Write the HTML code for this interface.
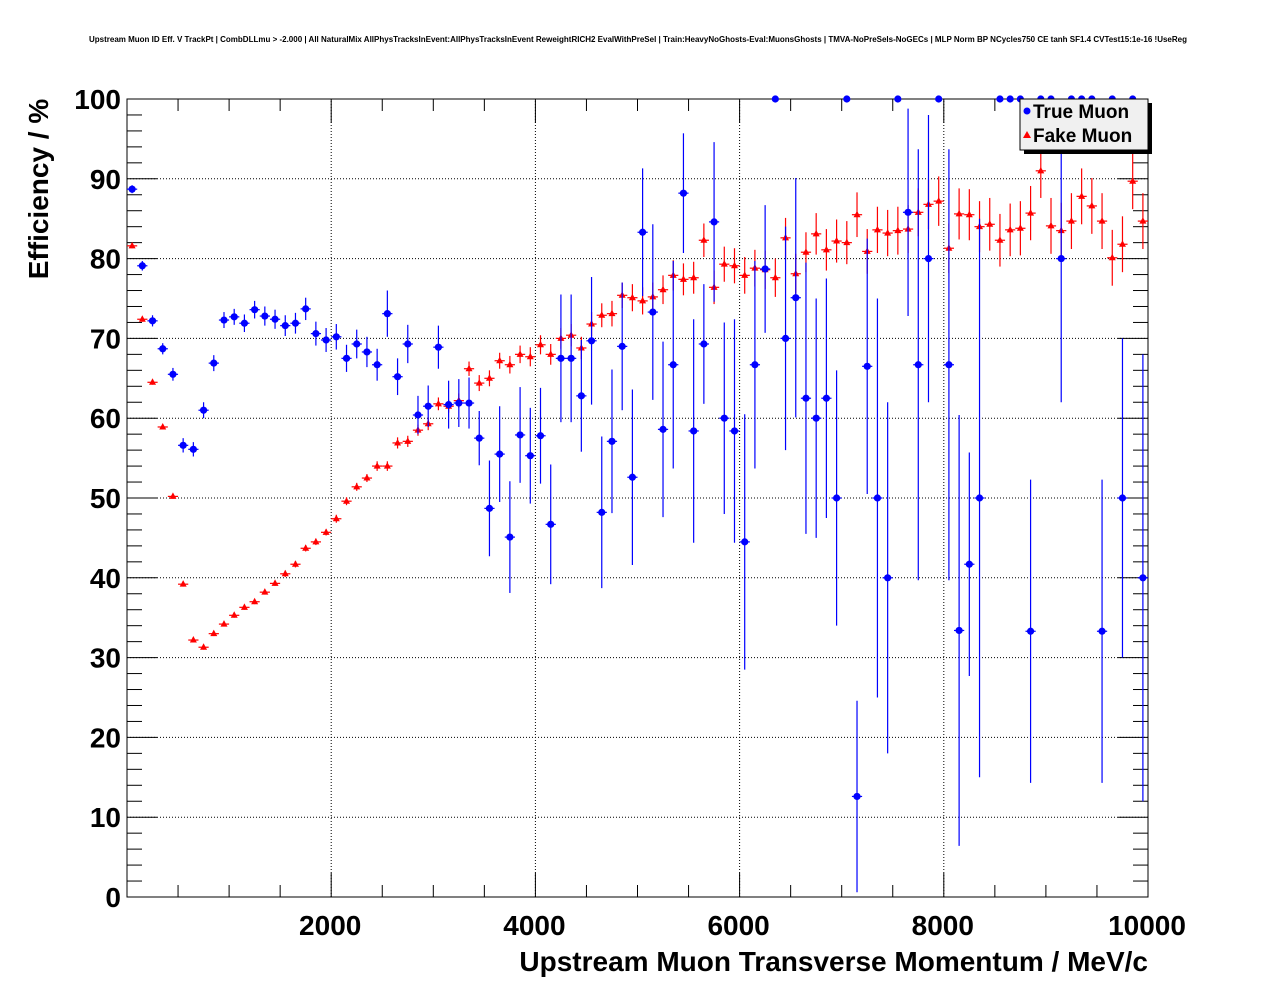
<!DOCTYPE html>
<html><head><meta charset="utf-8"><style>
html,body{margin:0;padding:0;background:#fff;}
svg text{font-family:"Liberation Sans",Arial,sans-serif;font-weight:bold;}
</style></head><body>
<svg id="chart" width="1276" height="996" viewBox="0 0 1276 996" xmlns="http://www.w3.org/2000/svg">
<rect width="1276" height="996" fill="#fff"/>
<text x="638" y="42" font-size="8" text-anchor="middle">Upstream Muon ID Eff. V TrackPt | CombDLLmu &gt; -2.000 | All NaturalMix AllPhysTracksInEvent:AllPhysTracksInEvent ReweightRICH2 EvalWithPreSel | Train:HeavyNoGhosts-Eval:MuonsGhosts | TMVA-NoPreSels-NoGECs | MLP Norm BP NCycles750 CE tanh SF1.4 CVTest15:1e-16 !UseReg</text>
<g id="grid"></g>
<g id="axes"></g>
<g id="fake"></g>
<g id="true"></g>
<text transform="translate(48,189) rotate(-90)" font-size="28" text-anchor="middle">Efficiency / %</text>
<text x="1148" y="971" font-size="28" text-anchor="end">Upstream Muon Transverse Momentum / MeV/c</text>
<g>
<rect x="1024" y="103" width="128" height="51" fill="#000"/>
<rect x="1020" y="99" width="128" height="51" fill="#f0f0f0" stroke="#000" stroke-width="1"/>
<g>
<circle cx="1027" cy="111" r="3.5" fill="#0000ff"/>
<text x="1033" y="118" font-size="19">True Muon</text></g>
<g>
<polygon points="1027,131 1031,138 1023,138" fill="#ff0000"/>
<text x="1033" y="142" font-size="19">Fake Muon</text></g>
</g>
</svg>
<script>
const binCenters = [];
for (let i = 0; i < 100; i++) binCenters.push(50 + 100 * i);
const trueEff = [88.7,79.1,72.2,68.7,65.5,56.6,56.1,61.0,66.9,72.3,
72.7,71.9,73.6,72.8,72.4,71.6,71.9,73.7,70.6,69.8,
70.2,67.5,69.3,68.3,66.7,73.1,65.2,69.3,60.4,61.5,
68.9,61.7,61.9,61.9,57.5,48.7,55.5,45.1,57.9,55.3,
57.8,46.7,67.5,67.5,62.8,69.7,48.2,57.1,69.0,52.6,
83.3,73.3,58.6,66.7,88.2,58.4,69.3,84.6,60.0,58.4,
44.5,66.7,78.7,100,70.0,75.1,62.5,60.0,62.5,50.0,
100,12.6,66.5,50.0,40.0,100,85.8,66.7,80.0,100,
66.7,33.4,41.7,50.0,null,100,100,100,33.3,100,
100,80.0,100,100,100,33.3,100,50.0,100,40.0];
const trueErr = [0.5,0.6,0.7,0.7,0.8,0.9,0.9,1.0,1.0,1.0,
1.0,1.1,1.1,1.2,1.2,1.3,1.3,1.4,1.5,1.5,
1.6,1.7,1.8,1.9,2.0,2.9,2.3,2.4,2.4,2.6,
2.7,3.0,3.0,3.2,3.4,6,6,7,6,6,
6,7.5,8,8,7,8,9.5,9,8,11,
8,11,11,13,7.5,14,7.5,10,12,14,
16,13,8,0,14,15,17,15,15,16,
0,12,16,25,22,0,13,27,18,0,
27,27,14,35,0,0,0,0,19,0,
0,18,0,0,0,19,0,20,0,28];
const fakeEff = [81.6,72.4,64.5,58.9,50.2,39.2,32.2,31.3,33.0,34.2,
35.3,36.3,37.0,38.2,39.3,40.5,41.7,43.7,44.5,45.7,
47.4,49.6,51.4,52.5,54.0,54.0,56.9,57.1,58.5,59.3,
61.8,61.5,62.2,66.2,64.4,65.0,67.2,66.7,68.0,67.7,
69.2,68.0,70.0,70.4,68.8,71.8,72.9,73.1,75.4,75.1,
74.7,75.2,76.1,77.9,77.4,77.6,82.3,76.4,79.3,79.1,
77.9,78.8,78.6,77.6,82.6,78.1,80.8,83.1,81.1,82.2,
82.0,85.5,80.9,83.6,83.2,83.5,83.7,85.8,86.8,87.2,
81.3,85.6,85.5,84.0,84.3,82.3,83.6,83.8,85.7,91.0,
84.1,83.5,84.7,87.8,86.6,84.7,80.1,81.8,89.7,84.7];
const fakeErr = [0.3,0.3,0.3,0.3,0.3,0.3,0.3,0.3,0.3,0.3,
0.3,0.3,0.3,0.3,0.3,0.4,0.4,0.4,0.4,0.4,
0.5,0.5,0.5,0.5,0.6,0.6,0.7,0.7,0.7,0.8,
0.8,0.8,0.9,0.9,1.0,1.0,1.0,1.1,1.1,1.2,
1.2,1.3,1.3,1.4,1.4,1.5,1.5,1.6,1.6,1.7,
1.7,1.8,1.8,1.9,2.0,2.0,2.1,2.1,2.2,2.2,
2.3,2.3,2.4,2.4,2.5,2.5,2.5,2.6,2.6,2.7,
2.7,2.8,2.8,2.9,2.9,3.0,3.0,3.0,3.1,3.1,
3.1,3.2,3.2,3.2,3.3,3.3,3.3,3.4,3.4,3.4,
3.5,3.5,3.5,3.5,3.5,3.5,3.5,3.5,3.5,3.5];
const xTickLabels = [2000,4000,6000,8000,10000];
const yTickLabels = [0,10,20,30,40,50,60,70,80,90,100];

const NS = "http://www.w3.org/2000/svg";
const X0 = 127, X1 = 1148, Y0 = 897, Y1 = 99;
const xPix = v => X0 + (v / 10000) * (X1 - X0);
const yPix = v => Y0 - (v / 100) * (Y0 - Y1);
function mk(tag, attrs, parent) {
  const e = document.createElementNS(NS, tag);
  for (const k in attrs) e.setAttribute(k, attrs[k]);
  parent.appendChild(e);
  return e;
}
const grid = document.getElementById('grid');
const axes = document.getElementById('axes');
xTickLabels.forEach(t => {
  if (t < 10000) {
    const l = mk('line', {x1: xPix(t), x2: xPix(t), y1: Y0, y2: Y1, stroke: '#000', 'stroke-width': 1, 'stroke-dasharray': '1,2'}, grid);
    
    
  }
  const tx = mk('text', {x: xPix(t) - 1, y: 935, 'font-size': 28, 'text-anchor': 'middle'}, axes);
  tx.textContent = t;
  
  
});
yTickLabels.forEach(t => {
  if (t > 0 && t < 100) {
    const l = mk('line', {x1: X0, x2: X1, y1: yPix(t), y2: yPix(t), stroke: '#000', 'stroke-width': 1, 'stroke-dasharray': '1,2'}, grid);
    
    
  }
  const tx = mk('text', {x: 121, y: yPix(t) + 10, 'font-size': 28, 'text-anchor': 'end'}, axes);
  tx.textContent = t;
  
  
});
const fr = mk('rect', {x: X0, y: Y1, width: X1 - X0, height: Y0 - Y1, fill: 'none', stroke: '#000', 'stroke-width': 1}, axes);


for (let v = 0; v <= 10000; v += 500) {
  const L = (v % 2000 === 0) ? 24 : 12;
  mk('line', {x1: xPix(v), x2: xPix(v), y1: Y0, y2: Y0 - L, stroke: '#000'}, axes);
  mk('line', {x1: xPix(v), x2: xPix(v), y1: Y1, y2: Y1 + L, stroke: '#000'}, axes);
}
for (let v = 0; v <= 100; v += 2) {
  const L = (v % 10 === 0) ? 30 : 15;
  mk('line', {x1: X0, x2: X0 + L, y1: yPix(v), y2: yPix(v), stroke: '#000'}, axes);
  mk('line', {x1: X1, x2: X1 - L, y1: yPix(v), y2: yPix(v), stroke: '#000'}, axes);
}
function clamp(v) { return Math.max(0, Math.min(100, v)); }
function drawSeries(gid, eff, err, color, marker) {
  const g = document.getElementById(gid);
  for (let i = 0; i < eff.length; i++) {
    const v = eff[i];
    if (v === null) continue;
    const cx = xPix(binCenters[i]), cy = yPix(v);
    const pg = mk('g', {}, g);
    
    
    if (err[i] > 0) {
      mk('line', {x1: cx, x2: cx, y1: yPix(clamp(v + err[i])), y2: yPix(clamp(v - err[i])), stroke: color, 'stroke-width': 1.2}, pg);
      mk('line', {x1: xPix(binCenters[i] - 50), x2: xPix(binCenters[i] + 50), y1: cy, y2: cy, stroke: color, 'stroke-width': 1.2}, pg);
    }
    if (marker === 'circle') mk('circle', {cx: cx, cy: cy, r: 3.6, fill: color}, pg);
    else mk('polygon', {points: `${cx},${cy - 4} ${cx + 3.5},${cy + 2.5} ${cx - 3.5},${cy + 2.5}`, fill: color}, pg);
  }
}
drawSeries('fake', fakeEff, fakeErr, '#ff0000', 'tri');
drawSeries('true', trueEff, trueErr, '#0000ff', 'circle');
</script>
</body></html>
